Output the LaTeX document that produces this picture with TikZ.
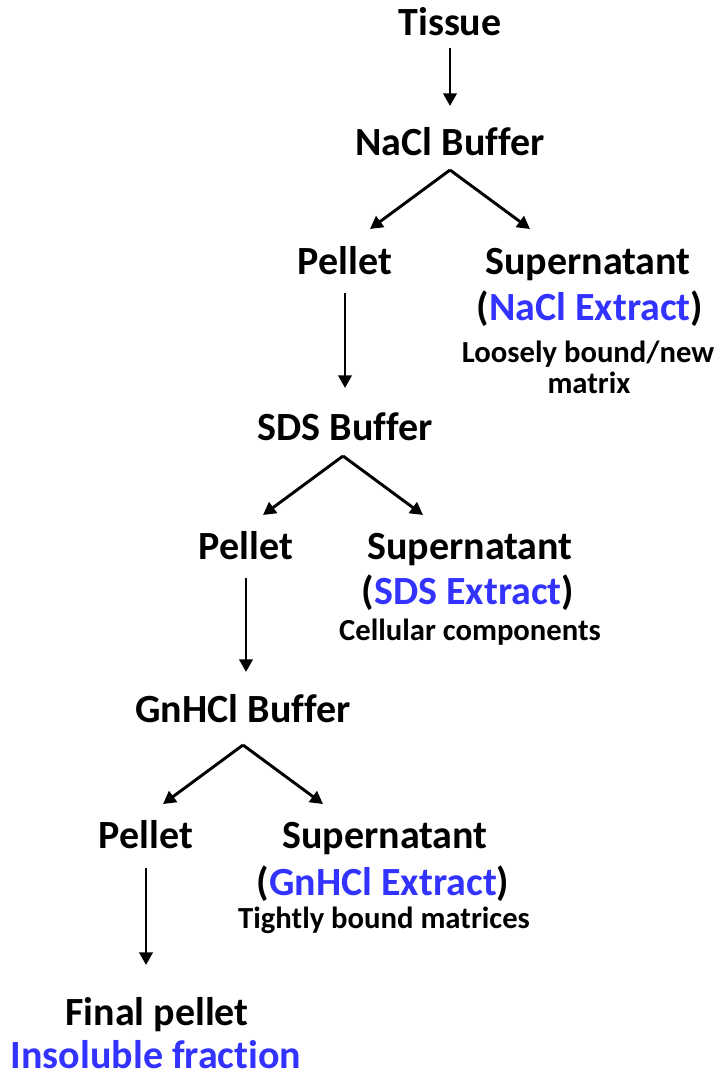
\documentclass[tikz,border=0pt]{standalone}
\usepackage{fontspec}
\setmainfont{Carlito}[Ligatures=NoCommon]
\usetikzlibrary{arrows.meta}

\definecolor{extblue}{RGB}{51,51,255}

\tikzset{
  main/.style={anchor=base, inner sep=0pt, font=\fontsize{30}{32}\selectfont\bfseries},
  note/.style={anchor=base, inner sep=0pt, font=\fontsize{23}{26}\selectfont\bfseries},
  flow/.style={-{Triangle[length=9.5pt,width=10pt]}, line width=2.2pt}
}

\begin{document}
\begin{tikzpicture}[x=0.75pt,y=-0.75pt]
\useasboundingbox (0,0) rectangle (722,1081);

% start and buffers
\node[main] (tissue) at (450,36) {Tissue};
\node[main] (nacl) at (450,155) {NaCl Buffer};
\node[main] (sds) at (345,440) {SDS Buffer};
\node[main] (gnhcl) at (243,722) {GnHCl Buffer};

% pellets
\node[main] (pelA) at (345,274) {Pellet};
\node[main] (pelB) at (246,559) {Pellet};
\node[main] (pelC) at (146,848) {Pellet};

% supernatants
\node[main] (supA) at (588,274) {Supernatant};
\node[main] (extA) at (590,320) {(\textcolor{extblue}{NaCl Extract})};
\node[note] (noteA) at (588,362) {Loosely bound/new};
\node[note] (noteAb) at (589,393) {matrix};

\node[main] (supB) at (470,559) {Supernatant};
\node[main] (extB) at (468,604) {(\textcolor{extblue}{SDS Extract})};
\node[note] (noteB) at (470,640) {Cellular components};

\node[main] (supC) at (385,848) {Supernatant};
\node[main] (extC) at (383,895) {(\textcolor{extblue}{GnHCl Extract})};
\node[note] (noteC) at (384,928) {Tightly bound matrices};

% end
\node[main] (final) at (157,1025) {Final pellet};
\node[main, text=extblue] (insol) at (156,1068) {Insoluble fraction};

% arrow ends
\coordinate (t0) at (450,48);   \coordinate (t1) at (450,106);
\coordinate (a0) at (345,293);  \coordinate (a1) at (345,388);
\coordinate (b0) at (246,578);  \coordinate (b1) at (246,672);
\coordinate (c0) at (146,868);  \coordinate (c1) at (146,965);

\coordinate (apexA) at (450,170);
\coordinate (apexB) at (343,456);
\coordinate (apexC) at (243,745);

\draw[flow] (t0) -- (t1);
\draw[flow] (a0) -- (a1);
\draw[flow] (b0) -- (b1);
\draw[flow] (c0) -- (c1);

% splits into pellet and supernatant
\foreach \s in {A,B,C}
{
  \draw[flow] (apex\s) -- ++(-80,59);
  \draw[flow] (apex\s) -- ++(80,59);
}
\end{tikzpicture}
\end{document}
